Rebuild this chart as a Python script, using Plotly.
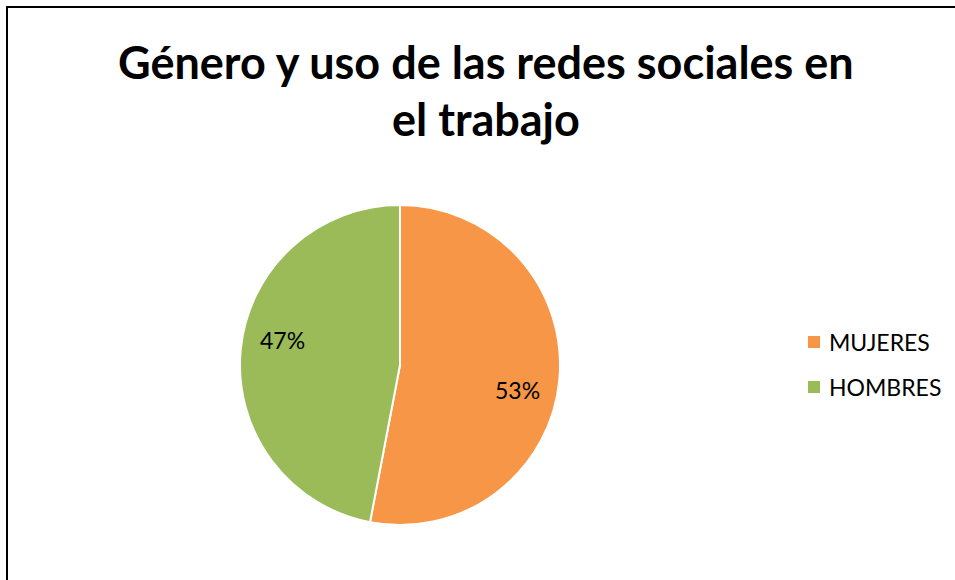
import math
import plotly.graph_objects as go

# Survey shares by gender
labels = ["MUJERES", "HOMBRES"]
values = [53, 47]
colors = ["#F79646", "#9BBB59"]

title_lines = ["Género y uso de las redes sociales en", "el trabajo"]

W, H = 955, 580
FONT = "Lato"

# Pie placed as a square box in pixel terms, converted to paper fractions
cx, cy, r = 400, 365, 160
dom_x = [(cx - r) / W, (cx + r) / W]
dom_y = [1 - (cy + r) / H, 1 - (cy - r) / H]

fig = go.Figure(
    go.Pie(
        labels=labels,
        values=values,
        marker=dict(colors=colors, line=dict(color="white", width=2)),
        sort=False,
        direction="clockwise",
        rotation=0,
        textinfo="none",
        domain=dict(x=dom_x, y=dom_y),
        hoverinfo="label+percent",
        showlegend=False,
    )
)

annotations = []
shapes = []

# Title, one annotation per line
for text, ypix in zip(title_lines, [62, 119]):
    annotations.append(dict(
        text=f"<b>{text}</b>", xref="paper", yref="paper",
        x=486 / W, y=1 - ypix / H, xanchor="center", yanchor="middle",
        showarrow=False, font=dict(family=FONT, size=45, color="black"),
    ))

# Percentage labels placed around each slice's mid angle
total = sum(values)
start = 0.0
for v in values:
    frac = v / total
    mid = (start + frac / 2) * 2 * math.pi
    start += frac
    lr = 0.74 * r
    px = cx + lr * math.sin(mid)
    py = cy - lr * math.cos(mid) * 2.2
    annotations.append(dict(
        text=f"{round(frac * 100)}%", xref="paper", yref="paper",
        x=px / W, y=1 - py / H, xanchor="center", yanchor="middle",
        showarrow=False, font=dict(family=FONT, size=23, color="black"),
    ))

# Legend drawn as coloured squares with labels
for i, (lab, col) in enumerate(zip(labels, colors)):
    ypix = 342 + i * 45
    shapes.append(dict(
        type="rect", xref="paper", yref="paper",
        x0=808 / W, x1=820 / W, y0=1 - (ypix + 6) / H, y1=1 - (ypix - 6) / H,
        fillcolor=col, line=dict(width=0),
    ))
    annotations.append(dict(
        text=lab, xref="paper", yref="paper",
        x=827 / W, y=1 - ypix / H, xanchor="left", yanchor="middle",
        showarrow=False, font=dict(family=FONT, size=23, color="black"),
    ))

# Chart frame
shapes.append(dict(
    type="rect", xref="paper", yref="paper",
    x0=7 / W, x1=1.01, y0=-0.01, y1=1 - 7 / H,
    line=dict(color="black", width=2), fillcolor="rgba(0,0,0,0)",
))

fig.update_layout(
    width=W,
    height=H,
    margin=dict(l=0, r=0, t=0, b=0),
    paper_bgcolor="white",
    plot_bgcolor="white",
    annotations=annotations,
    shapes=shapes,
)

fig.write_html("out.html")
